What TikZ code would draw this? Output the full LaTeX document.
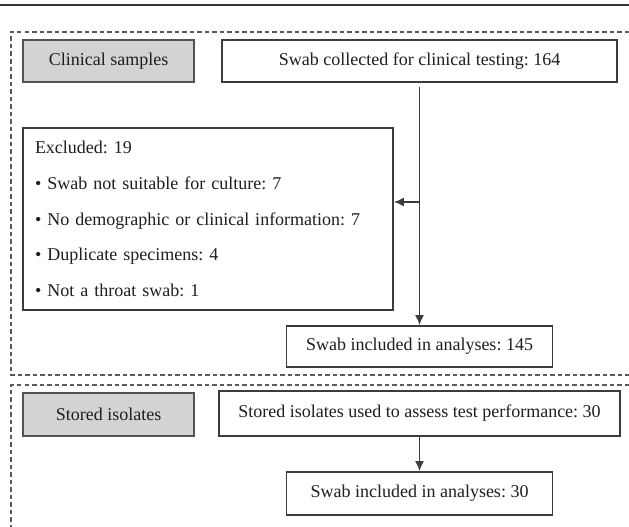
\documentclass[tikz,border=0pt]{standalone}
\usepackage{fontspec}
\setmainfont{Liberation Serif}
\frenchspacing
\usetikzlibrary{positioning, calc, arrows.meta}
\definecolor{boxline}{HTML}{3C3C3C}
\definecolor{boxgray}{HTML}{D3D3D3}
\definecolor{dashgray}{HTML}{5A5A5A}
\tikzset{
  flowbox/.style={draw=boxline, line width=1.8pt, fill=white, inner sep=0pt, text=black!88, font=\fontsize{18}{21}\selectfont},
  labelbox/.style={flowbox, fill=boxgray, draw=gray!65!black},
  frame/.style={draw=dashgray, line width=1.3pt, dash pattern=on 4.5pt off 3pt},
  flowarrow/.style={draw=boxline, line width=1.6pt, -{Latex[length=10pt,width=9pt]}}
}

\begin{document}
\begin{tikzpicture}[x=1pt, y=-1pt]
    \useasboundingbox (0,0) rectangle (629,527);
    \draw[line width=1.6pt, black!80] (0,5) -- (629,5);
    \draw[frame] (629,32) -- (11,32) -- (11,375) -- (629,375);
    \draw[frame] (629,385) -- (11,385) -- (11,527);
    \node[labelbox, minimum width=171pt, minimum height=42pt] (clinical) at (108.5,61) {Clinical samples};
    \node[flowbox, minimum width=395pt, minimum height=42pt] (collected) at (419.5,61) {Swab collected for clinical testing: 164};
    \node[flowbox, minimum width=370pt, minimum height=182pt, text width=346pt, inner xsep=12pt, align=left,
          font=\fontsize{18}{35.75}\selectfont] (excluded) at (208,219)
        {Excluded: 19\\
         \textbullet\hspace{6pt}Swab not suitable for culture: 7\\
         \textbullet\hspace{6pt}No demographic or clinical information: 7\\
         \textbullet\hspace{6pt}Duplicate specimens: 4\\
         \textbullet\hspace{6pt}Not a throat swab: 1};
    \node[flowbox, minimum width=266pt, minimum height=41pt] (included) at (419.5,346.5) {Swab included in analyses: 145};
    \node[labelbox, minimum width=171pt, minimum height=43pt] (stored) at (108.5,414.5) {Stored isolates};
    \node[flowbox, minimum width=401pt, minimum height=45pt] (storeduse) at (419.5,413.5) {Stored isolates used to assess test performance: 30};
    \node[flowbox, minimum width=266pt, minimum height=43pt] (includedB) at (419.5,493.5) {Swab included in analyses: 30};
    \coordinate (branch) at (collected.south |- 0,202);
    \draw[flowarrow, shorten <=4pt] (collected.south) -- (included.north);
    \draw[flowarrow] (branch) -- (branch -| excluded.east);
    \draw[flowarrow] (storeduse.south) -- (includedB.north);
\end{tikzpicture}
\end{document}
